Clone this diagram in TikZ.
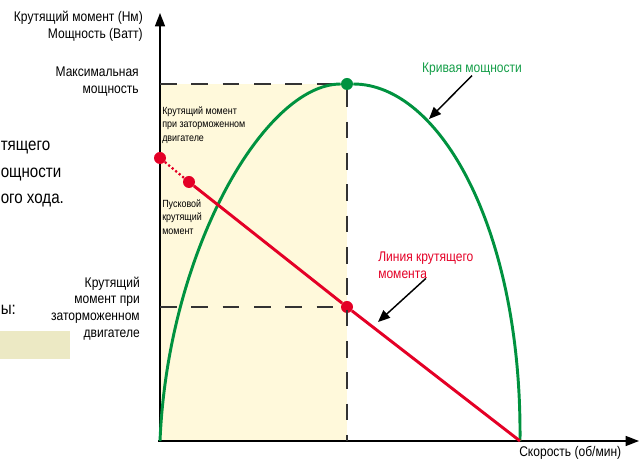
\documentclass[tikz,border=0pt]{standalone}
\usepackage{fontspec}
\setmainfont{Liberation Sans}[FakeStretch=0.86]
\usetikzlibrary{arrows.meta}

\definecolor{curvegreen}{RGB}{0,146,63}
\definecolor{labelgreen}{RGB}{20,158,72}
\definecolor{torquered}{RGB}{228,0,38}
\definecolor{zonefill}{RGB}{255,249,219}
\definecolor{notefill}{RGB}{236,233,196}

\tikzset{
  spot/.style={circle, inner sep=0pt, minimum size=9pt},
  lbl/.style={inner sep=0pt, font=\fontsize{10.5}{12.5}\selectfont},
  smalllbl/.style={inner sep=0pt, anchor=west, align=left, font=\fontsize{7.8}{9.9}\selectfont},
  pagetxt/.style={inner sep=0pt, anchor=west, font=\fontsize{13.2}{16}\selectfont},
  guide/.style={line width=1.1pt, black!80, dash pattern={on 12.5pt off 11pt}},
  pointer/.style={line width=1.1pt, -{Triangle[length=9pt,width=7.5pt]}},
  axisline/.style={line width=1.1pt, -{Triangle[length=10pt,width=7.5pt]}}
}

\begin{document}
\begin{tikzpicture}[x=0.75pt,y=0.75pt,yscale=-1,xscale=1]
    \useasboundingbox (0,0) rectangle (640,459);

    % page text at the left
    \node[pagetxt] (frag1) at (0.5,148) {тящего};
    \node[pagetxt] (frag2) at (0.5,175) {ощности};
    \node[pagetxt] (frag3) at (0.5,201) {ого хода.};
    \node[pagetxt] (frag4) at (0.5,310) {ы:};
    \fill[notefill] (0,331) rectangle (70,359);

    % stalled-motor zone
    \fill[zonefill] (160,84) rectangle (347,441);

    \coordinate (origin) at (160,441);
    \coordinate (ytop) at (160,13);
    \coordinate (xstart) at (158,441);
    \coordinate (xend) at (639,441);
    \coordinate (stop) at (520,441);
    \coordinate (peakleft) at (160,84);
    \coordinate (crossleft) at (160,307);
    \coordinate (peakfoot) at (347,441);
    \coordinate (greentip) at (429,119);
    \coordinate (redtip) at (378,322);

    % axes
    \draw[axisline] (origin) -- (ytop);
    \draw[axisline] (xstart) -- (xend);

    % points
    \node[spot, fill=curvegreen] (peak) at (347,84) {};
    \node[spot, fill=torquered] (stall) at (160,158) {};
    \node[spot, fill=torquered] (start) at (189,182) {};
    \node[spot, fill=torquered] (cross) at (347,307) {};

    % dashed guides
    \draw[guide] (peakleft) -- (peak);
    \draw[guide] (peak) -- (peakfoot);
    \draw[guide] (crossleft) -- (cross);

    % power curve
    \draw[curvegreen, line width=2.2pt] (origin) .. controls (168,250) and (265,84) .. (peak);
    \draw[curvegreen, line width=2.2pt] (peak) .. controls (440,84) and (522,230) .. (stop);

    % torque line
    \draw[torquered, line width=1.7pt, dash pattern={on 1.6pt off 1.8pt}] (stall) -- (start);
    \draw[torquered, line width=2.2pt] (start) -- (cross);
    \draw[torquered, line width=2.2pt] (cross) -- (stop);

    % Text Node
    \node[lbl, align=right, anchor=east] (ylbl) at (143,26) {Крутящий момент (Нм)\\Мощность (Ватт)};
    \node[lbl, align=right, anchor=east] (maxlbl) at (139,81.5) {Максимальная\\мощность};
    \node[lbl, align=right, anchor=east] (stalllbl) at (140,308.5) {Крутящий\\момент при\\заторможенном\\двигателе};
    \node[smalllbl] (stallin) at (162,125) {Крутящий момент\\при заторможенном\\двигателе};
    \node[smalllbl] (startlbl) at (162,217) {Пусковой\\крутящий\\момент};
    \node[lbl, text=labelgreen] (greenlbl) at (472,69) {Кривая мощности};
    \node[lbl, text=torquered, align=left, anchor=west] (redlbl) at (378,265) {Линия крутящего\\момента};
    \node[lbl, anchor=west] (xlbl) at (519,453) {Скорость (об/мин)};

    % pointers
    \draw[pointer] (greenlbl.south) -- (greentip);
    \draw[pointer] (redlbl.south) -- (redtip);
\end{tikzpicture}
\end{document}
